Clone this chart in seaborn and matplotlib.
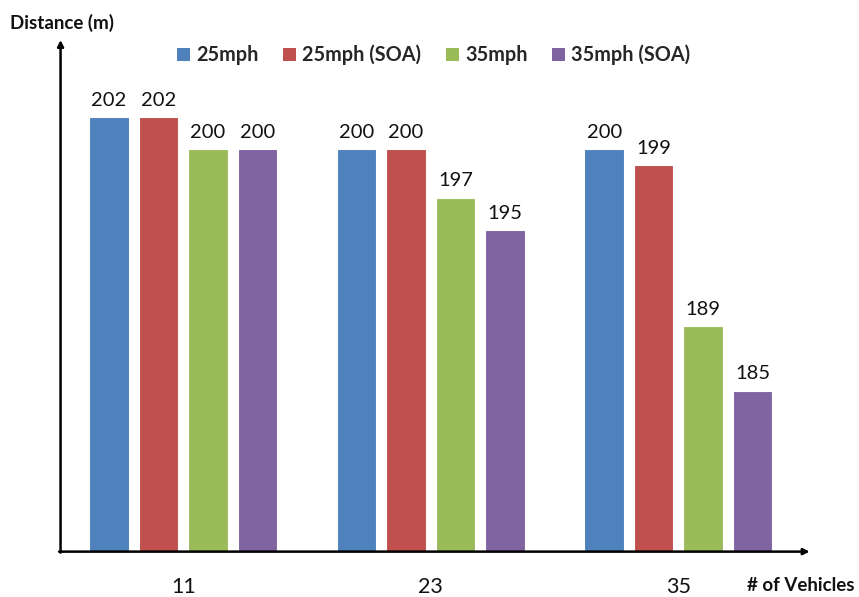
import matplotlib
matplotlib.use("Agg")
import matplotlib.pyplot as plt
import seaborn as sns
import pandas as pd
from matplotlib.patches import Patch

# Vehicle counts on the x axis and the four speed / SOA series
vehicles = ["11", "23", "35"]
series = ["25mph", "25mph (SOA)", "35mph", "35mph (SOA)"]
dist_25 = [202, 200, 200]
dist_25_soa = [202, 200, 199]
dist_35 = [200, 197, 189]
dist_35_soa = [200, 195, 185]
colors = ["#4F81BD", "#C0504D", "#9BBB59", "#8064A2"]

df = pd.DataFrame({
    "vehicles": vehicles * 4,
    "series": [s for s in series for _ in vehicles],
    "distance": dist_25 + dist_25_soa + dist_35 + dist_35_soa,
})

sns.set_theme(style="white")
plt.rcParams["font.family"] = ["Lato", "DejaVu Sans"]

fig = plt.figure(figsize=(8.59, 5.97), dpi=100)
ax = fig.add_axes([0.0705, 0.076, 0.872, 0.857])

sns.barplot(data=df, x="vehicles", y="distance", hue="series",
            hue_order=series, palette=colors, gap=0.2, width=0.8,
            saturation=1, ax=ax, legend=False, linewidth=0.8,
            edgecolor="white")

for cont in ax.containers:
    ax.bar_label(cont, fmt="%d", padding=6, fontsize=14.5, color="#111111")

ax.set_ylim(175, 206.8)
ax.set_xlim(-0.496, 2.53)
ax.set_yticks([])
ax.set_xlabel("")
ax.set_ylabel("")
ax.tick_params(axis="x", length=0, pad=18, labelsize=15.5, colors="#111111")
for s in ax.spines.values():
    s.set_visible(False)

# Axis lines with arrow heads
ax.annotate("", xy=(1.0, 0), xytext=(-0.002, 0), xycoords="axes fraction",
            arrowprops=dict(arrowstyle="-|>", color="black", lw=1.8,
                            mutation_scale=9, shrinkA=0, shrinkB=0))
ax.annotate("", xy=(0, 1.0), xytext=(0, -0.002), xycoords="axes fraction",
            arrowprops=dict(arrowstyle="-|>", color="black", lw=1.8,
                            mutation_scale=9, shrinkA=0, shrinkB=0))

fig.text(0.012, 0.962, "Distance (m)", fontsize=13.5, fontweight="bold",
         ha="left", va="center", color="#111111")
fig.text(0.995, 0.020, "# of Vehicles", fontsize=13.5, fontweight="bold",
         ha="right", va="center", color="#111111")

handles = [Patch(facecolor=c, edgecolor="none") for c in colors]
fig.legend(handles, series, loc="center", bbox_to_anchor=(0.505, 0.908),
           ncol=4, frameon=False, handlelength=0.65, handleheight=0.65,
           handletextpad=0.3, columnspacing=1.25,
           prop={"size": 14.3, "weight": "bold"})

fig.savefig("out.png", dpi=100)
